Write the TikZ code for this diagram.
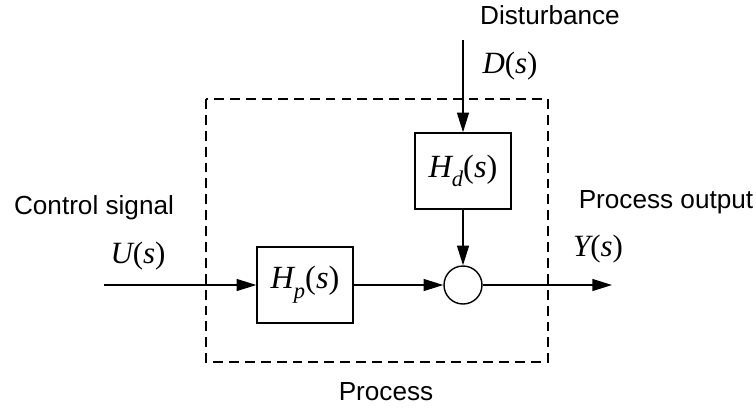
\documentclass[tikz,border=0pt]{standalone}
\usepackage{fontspec}
\setmainfont{Liberation Sans}
\newfontfamily\serifit{Liberation Serif}[ItalicFont=* Italic]
\usepackage{tikz}
\usetikzlibrary{arrows.meta}
\newcommand{\sig}[1]{{\serifit\itshape #1}{\serifit(}{\serifit\itshape s}{\serifit)}}
\newcommand{\tfun}[1]{{\serifit\itshape H}\raisebox{-0.3em}{\fontsize{16}{16}\selectfont\serifit\itshape #1}{\serifit(}{\serifit\itshape s}{\serifit)}}

\begin{document}
\begin{tikzpicture}[
  x=0.025cm, y=-0.025cm,
  every node/.style={inner sep=0pt,font=\fontsize{18.6}{22}\selectfont},
  block/.style={draw,line width=1pt,minimum width=96*0.025cm,
    minimum height=76*0.025cm,font=\fontsize{23}{27}\selectfont},
  sumnode/.style={draw,circle,line width=1pt,minimum size=38*0.025cm},
  math/.style={font=\fontsize{22}{26}\selectfont},
  every path/.style={line width=1pt},
  >={Triangle[length=14pt,width=8.5pt]}
]
\useasboundingbox (0,0) rectangle (756,409);
% the process, dashed frame
\draw[dash pattern=on 7pt off 4.3pt,line width=1.2pt] (206,99) rectangle (548,362);
\node (process) at (386,392) {Process};
% blocks
\node[block] (hp) at (305,285) {\tfun{p}};
\node[block] (hd) at (463,171) {\tfun{d}};
\node[sumnode] (sum) at (463,285) {};
% signals
\coordinate (uin) at (104,285);
\coordinate (yout) at (612,285);
\coordinate (din) at (463,40);
\node (ctrl) at (94,208) {Control signal};
\node[math] (u) at (138,256) {\sig{U}};
\node (dist) at (550,15) {Disturbance};
\node[math] (d) at (510,66) {\sig{D}};
\node (pout) at (666,202) {Process output};
\node[math] (y) at (598,249) {\sig{Y}};
\draw[->] (uin) -- (hp);
\draw[->] (hp) -- (sum);
\draw[->] (sum) -- (yout);
\draw[->] (din) -- (hd);
\draw[->] (hd) -- (sum);
\end{tikzpicture}
\end{document}
